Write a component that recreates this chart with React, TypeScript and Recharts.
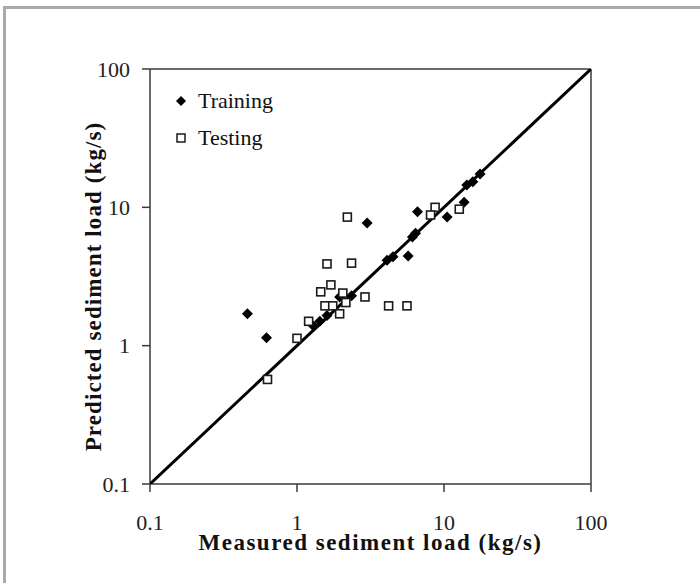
import { ReferenceLine, Scatter, ScatterChart, XAxis, YAxis } from 'recharts';

// measured (x) vs predicted (y), kg/s
const trainingMeasured = [0.46, 0.62, 1.3, 1.43, 1.6, 1.95, 2.35, 3.0, 4.1, 4.5, 5.7, 6.1, 6.4, 6.6, 10.5, 13.7, 14.3, 15.7, 17.6];
const trainingPredicted = [1.7, 1.14, 1.38, 1.5, 1.65, 2.25, 2.3, 7.7, 4.15, 4.4, 4.45, 6.1, 6.5, 9.3, 8.5, 10.9, 14.5, 15.3, 17.4];

const testingMeasured = [2.2, 1.6, 2.35, 1.7, 1.45, 2.05, 2.9, 1.55, 1.75, 2.15, 1.95, 1.2, 1.0, 0.63, 4.2, 5.6, 8.7, 8.1, 12.7];
const testingPredicted = [8.5, 3.9, 3.95, 2.75, 2.45, 2.4, 2.25, 1.94, 1.94, 2.05, 1.7, 1.5, 1.13, 0.57, 1.94, 1.94, 10.0, 8.8, 9.7];

const axisTicks = [0.1, 1, 10, 100];
const lineEnds = [0.1, 100];

const training = trainingMeasured.map((x, i) => ({ x, y: trainingPredicted[i] }));
const testing = testingMeasured.map((x, i) => ({ x, y: testingPredicted[i] }));
const oneToOne = lineEnds.map((v) => ({ x: v, y: v }));

const font = '"Liberation Serif", "Times New Roman", serif';
const axisColor = '#3a3a3a';

const Diamond = ({ cx, cy }: { cx?: number; cy?: number }) => {
  if (cx == null || cy == null) return <g />;
  const r = 5.5;
  return <polygon points={`${cx},${cy - r} ${cx + r},${cy} ${cx},${cy + r} ${cx - r},${cy}`} fill="#000" />;
};

const Square = ({ cx, cy }: { cx?: number; cy?: number }) => {
  if (cx == null || cy == null) return <g />;
  return <rect x={cx - 4} y={cy - 4} width={8} height={8} fill="#fff" stroke="#1a1a1a" strokeWidth={1.6} />;
};

const LegendBox = () => (
  <div
    style={{
      position: 'absolute',
      left: 172,
      top: 82,
      fontFamily: font,
      fontSize: 22,
      color: '#111',
      lineHeight: '37px',
    }}
  >
    <div style={{ display: 'flex', alignItems: 'center' }}>
      <svg width={18} height={14}>
        <polygon points="9,2 14,7 9,12 4,7" fill="#000" />
      </svg>
      <span style={{ marginLeft: 8 }}>Training</span>
    </div>
    <div style={{ display: 'flex', alignItems: 'center' }}>
      <svg width={18} height={14}>
        <rect x={5} y={3} width={8} height={8} fill="#fff" stroke="#1a1a1a" strokeWidth={1.5} />
      </svg>
      <span style={{ marginLeft: 8 }}>Testing</span>
    </div>
  </div>
);

const XTitle = ({ viewBox }: any) => {
  const { x, y, width } = viewBox;
  return (
    <text
      x={x + width / 2}
      y={y + 66}
      textAnchor="middle"
      fontFamily={font}
      fontSize={23}
      fontWeight="bold"
      letterSpacing={1.5}
      fill="#111"
    >
      Measured sediment load (kg/s)
    </text>
  );
};

const YTitle = ({ viewBox }: any) => {
  const { y, height } = viewBox;
  const cx = 101;
  const cy = y + height / 2 + 10;
  return (
    <text
      x={cx}
      y={cy}
      transform={`rotate(-90, ${cx}, ${cy})`}
      textAnchor="middle"
      fontFamily={font}
      fontSize={23}
      fontWeight="bold"
      letterSpacing={1.1}
      fill="#111"
    >
      Predicted sediment load (kg/s)
    </text>
  );
};

export default function App() {
  const tickStyle = { fontFamily: font, fontSize: 22, fill: '#222' };
  return (
    <div style={{ position: 'absolute', left: 0, top: 0, width: 700, height: 583, background: '#fff' }}>
      <div
        style={{
          position: 'absolute',
          left: 3,
          top: 6,
          width: 697,
          height: 577,
          borderTop: '3px solid #a9a9a9',
          borderLeft: '3px solid #a9a9a9',
          boxSizing: 'border-box',
        }}
      />
      <ScatterChart width={700} height={583} margin={{ top: 69, right: 109, bottom: 0, left: 0 }}>
        <XAxis
          type="number"
          dataKey="x"
          scale="log"
          domain={[0.1, 100]}
          ticks={axisTicks}
          allowDataOverflow
          tickFormatter={(v) => String(v)}
          height={99}
          tickSize={8}
          tickMargin={22}
          tick={tickStyle}
          axisLine={{ stroke: axisColor, strokeWidth: 1.5 }}
          tickLine={{ stroke: axisColor, strokeWidth: 1.5 }}
          label={<XTitle />}
        />
        <YAxis
          type="number"
          dataKey="y"
          scale="log"
          domain={[0.1, 100]}
          ticks={axisTicks}
          allowDataOverflow
          tickFormatter={(v) => String(v)}
          width={150}
          tickSize={8}
          tickMargin={12}
          tick={tickStyle}
          axisLine={{ stroke: axisColor, strokeWidth: 1.5 }}
          tickLine={{ stroke: axisColor, strokeWidth: 1.5 }}
          label={<YTitle />}
        />
        <ReferenceLine y={100} stroke={axisColor} strokeWidth={1.5} />
        <ReferenceLine x={100} stroke={axisColor} strokeWidth={1.5} />
        <Scatter
          name="1:1"
          data={oneToOne}
          line={{ stroke: '#000', strokeWidth: 3 }}
          shape={() => <g />}
          legendType="none"
          isAnimationActive={false}
        />
        <Scatter name="Training" data={training} shape={<Diamond />} isAnimationActive={false} />
        <Scatter name="Testing" data={testing} shape={<Square />} isAnimationActive={false} />
      </ScatterChart>
      <LegendBox />
    </div>
  );
}
